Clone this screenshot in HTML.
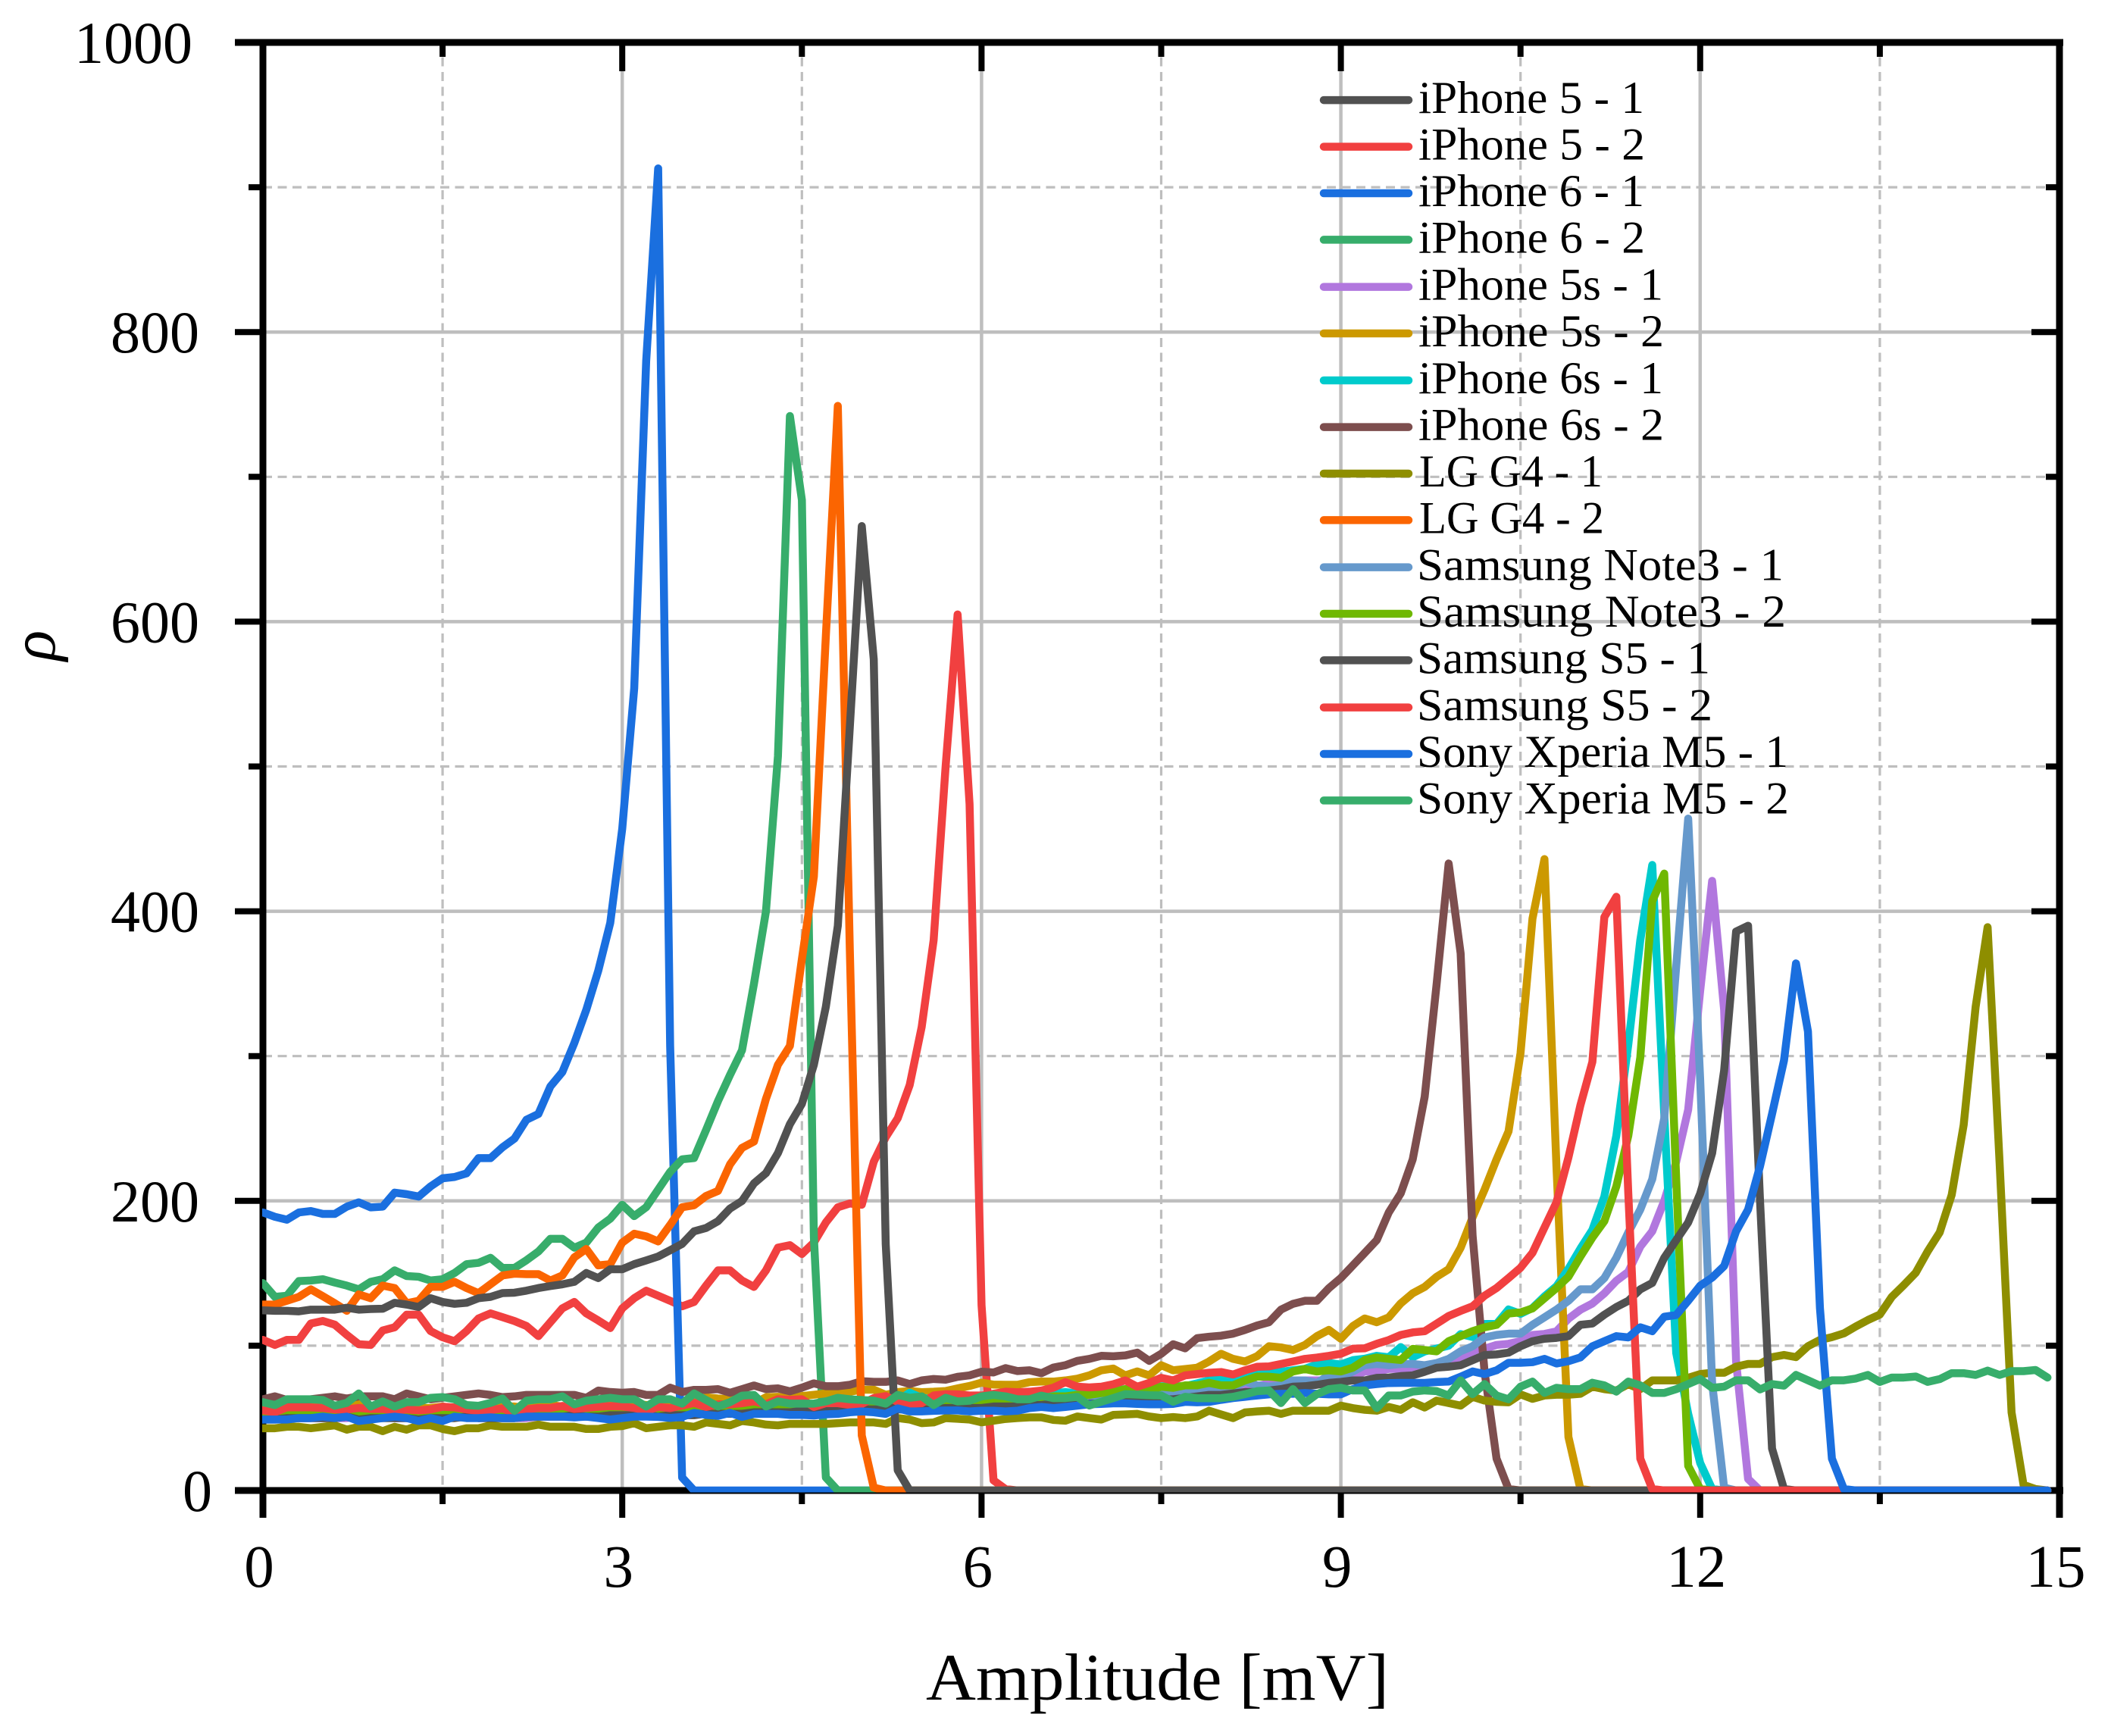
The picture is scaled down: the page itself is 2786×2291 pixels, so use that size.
<!DOCTYPE html>
<html lang="en">
<head>
<meta charset="utf-8">
<title>Amplitude distribution per device</title>
<style>
html,body{margin:0;padding:0;background:#fff;}
svg{display:block;font-family:"Liberation Serif","DejaVu Serif",serif;}
</style>
</head>
<body>
<svg id="chart" xmlns="http://www.w3.org/2000/svg" width="2786" height="2291" viewBox="0 0 2786 2291">
  <defs><clipPath id="plot-clip"><rect x="346" y="56" width="2373" height="1913.5"/></clipPath></defs>
  <rect x="0" y="0" width="2786" height="2291" fill="#ffffff"/>
  <g id="grid"></g>
  <g id="axes"></g>
  <g id="series" clip-path="url(#plot-clip)"></g>
  <text x="1222" y="2243" font-size="88" textLength="611" lengthAdjust="spacingAndGlyphs">Amplitude [mV]</text>
  <text transform="translate(72,852) rotate(-90)" font-size="84" font-style="italic" text-anchor="middle">ρ</text>
  <g font-size="60" fill="#000">
    <g><line x1="1747" x2="1859" y1="132.1" y2="132.1" stroke="#515151" stroke-width="10.5" stroke-linecap="round"/><text x="1872" y="149" textLength="298" lengthAdjust="spacingAndGlyphs">iPhone 5 - 1</text></g>
    <g><line x1="1747" x2="1859" y1="193.6" y2="193.6" stroke="#F14040" stroke-width="10.5" stroke-linecap="round"/><text x="1872" y="210.5" textLength="299" lengthAdjust="spacingAndGlyphs">iPhone 5 - 2</text></g>
    <g><line x1="1747" x2="1859" y1="255" y2="255" stroke="#1A6FDF" stroke-width="10.5" stroke-linecap="round"/><text x="1872" y="272" textLength="298" lengthAdjust="spacingAndGlyphs">iPhone 6 - 1</text></g>
    <g><line x1="1747" x2="1859" y1="316.4" y2="316.4" stroke="#37AD6B" stroke-width="10.5" stroke-linecap="round"/><text x="1872" y="333.5" textLength="299" lengthAdjust="spacingAndGlyphs">iPhone 6 - 2</text></g>
    <g><line x1="1747" x2="1859" y1="378.6" y2="378.6" stroke="#B177DE" stroke-width="10.5" stroke-linecap="round"/><text x="1872" y="395.5" textLength="323" lengthAdjust="spacingAndGlyphs">iPhone 5s - 1</text></g>
    <g><line x1="1747" x2="1859" y1="440" y2="440" stroke="#CC9900" stroke-width="10.5" stroke-linecap="round"/><text x="1872" y="457" textLength="324" lengthAdjust="spacingAndGlyphs">iPhone 5s - 2</text></g>
    <g><line x1="1747" x2="1859" y1="502" y2="502" stroke="#00CBCC" stroke-width="10.5" stroke-linecap="round"/><text x="1872" y="519" textLength="323" lengthAdjust="spacingAndGlyphs">iPhone 6s - 1</text></g>
    <g><line x1="1747" x2="1859" y1="563.6" y2="563.6" stroke="#7D4E4E" stroke-width="10.5" stroke-linecap="round"/><text x="1872" y="580.5" textLength="324" lengthAdjust="spacingAndGlyphs">iPhone 6s - 2</text></g>
    <g><line x1="1747" x2="1859" y1="625" y2="625" stroke="#8E8E00" stroke-width="10.5" stroke-linecap="round"/><text x="1873" y="642" textLength="242" lengthAdjust="spacingAndGlyphs">LG G4 - 1</text></g>
    <g><line x1="1747" x2="1859" y1="686.4" y2="686.4" stroke="#FB6501" stroke-width="10.5" stroke-linecap="round"/><text x="1873" y="703.5" textLength="244" lengthAdjust="spacingAndGlyphs">LG G4 - 2</text></g>
    <g><line x1="1747" x2="1859" y1="748.6" y2="748.6" stroke="#6699CC" stroke-width="10.5" stroke-linecap="round"/><text x="1870" y="765.5" textLength="484" lengthAdjust="spacingAndGlyphs">Samsung Note3 - 1</text></g>
    <g><line x1="1747" x2="1859" y1="810" y2="810" stroke="#6FB802" stroke-width="10.5" stroke-linecap="round"/><text x="1870" y="827" textLength="487" lengthAdjust="spacingAndGlyphs">Samsung Note3 - 2</text></g>
    <g><line x1="1747" x2="1859" y1="871.4" y2="871.4" stroke="#515151" stroke-width="10.5" stroke-linecap="round"/><text x="1870" y="888.5" textLength="387" lengthAdjust="spacingAndGlyphs">Samsung S5 - 1</text></g>
    <g><line x1="1747" x2="1859" y1="933.6" y2="933.6" stroke="#F14040" stroke-width="10.5" stroke-linecap="round"/><text x="1870" y="950.5" textLength="390" lengthAdjust="spacingAndGlyphs">Samsung S5 - 2</text></g>
    <g><line x1="1747" x2="1859" y1="995" y2="995" stroke="#1A6FDF" stroke-width="10.5" stroke-linecap="round"/><text x="1870" y="1012" textLength="490" lengthAdjust="spacingAndGlyphs">Sony Xperia M5 - 1</text></g>
    <g><line x1="1747" x2="1859" y1="1056.4" y2="1056.4" stroke="#37AD6B" stroke-width="10.5" stroke-linecap="round"/><text x="1870" y="1073.5" textLength="491" lengthAdjust="spacingAndGlyphs">Sony Xperia M5 - 2</text></g>
  </g>
</svg>
<script>
const xMajorTicks = [0, 3, 6, 9, 12, 15];
const xMinorTicks = [1.5, 4.5, 7.5, 10.5, 13.5];
const yMajorTicks = [0, 200, 400, 600, 800, 1000];
const yMinorTicks = [100, 300, 500, 700, 900];
const sampleStep = 0.1;
const lastAmplitude = 14.9;

/* rho values per 0.1 mV; once a trace reaches 0 it stays on 0 to the end of the sweep */
const iphone5_1 = [124.4,124.1,124.1,123.7,124.9,124.9,124.9,126.2,124.9,125.3,
125.5,129.6,128.4,126.7,132.8,130.2,128.9,129.6,132.8,133.7,
136.3,136.6,138,139.8,141.2,142.4,144.1,150.2,146.7,152.8,
152.8,156.3,158.9,161.6,165.9,170.3,179,181.3,186,194.7,
199.9,212.1,219.1,233,253,267,294,334,390,527,
666,574,170,14,0];
const iphone5_2 = [104,100.5,104,104,115.3,117.1,114.5,107.5,101,100.5,
110.5,112.7,121.4,121.4,110.1,105.8,103.1,110.1,118.8,122.3,
119.7,117,113.6,106.6,116.2,125.8,130.2,122.3,117.4,112.2,
125.8,132.8,138,134.5,131,127.2,130.2,141.5,152,152,
145,140.6,152,167.7,169.4,163.3,171.2,185.1,195.6,198.2,
197.3,227,244,257,280,320,380,500,605,474,
128,7,1,0];
const iphone6_1 = [192,189,187,192,193,191,191,196,199,195.5,
196,205.7,204.6,203,210,215.6,216.5,219,229.5,229.5,
237,243,256,260,279,289,309,332,359,392,
457,554,780,913,307,9,0];
const iphone6_2 = [143.2,133.7,134.5,144.6,145,145.9,143.6,141.5,138.9,144.1,
145.9,152,148.1,147.6,145,145.9,150.2,156.3,157.2,160.7,
153.7,153.7,159,165,173.8,173.8,167.7,171.2,181.6,187.7,
197.3,189.5,195.6,207.8,220,228.7,229.6,249,269,287,
304,350,400,507,742,684,175,9,0];
const iphone5s_1 = [49,50,50,50,50,50,50,50,51,50,
51,50,50,50,50,50,51,51,50,50,
50,50,50,51,51,51,51,51,51,52,
52,52,52,52,53,53,53,53,53,53,
53,54,54,54,55,56,56,56,56,56,
56,56,57,57,57,57,58,58,58,59,
59.5,59.5,60,60,60,60,60,60,60.5,60.5,
60.4,61,62,64,65,66.5,67,67,68,69,
70,71,72,72,74,75.2,76,76,76,76,
76,78.6,82.2,82,84,84,85,86,87,89.3,
91.9,94.4,97.9,100.5,101.3,103.1,107.4,108.1,109.9,118.6,
124.8,129.1,136.1,144.8,151,168.4,179,200,227,263,
345,421,332,89,8,0];
const iphone5s_2 = [57,58,58,59.5,59.5,59,58,58,62,58,
57,57,58,57,57,58,57,57,57,57,
58,58,57,58,59,58,58,58,59,59,
60,60,59,59,59.5,60,61,64.4,63.5,63,
62,60,64.4,64.7,63.5,65.2,66.1,67,67.9,68.2,
69.6,69.6,66,68,68.7,67.9,68.2,68.7,70.5,72.2,
74.5,73.1,73,73,74.8,75.2,75.2,76,77.2,79.5,
83,84.2,79.5,82.2,79.5,86.5,83,83.9,84.8,89.1,
94.4,90.9,89.1,92.7,99.6,98.8,97,100.5,106.6,110.9,
104.8,113.5,118.8,116.2,119.6,129.2,136.2,140.6,147.6,152.8,
167.6,188.6,207.8,228.7,248,302,395,436,224,37,
1,0];
const iphone6s_1 = [52,53,52,53,52,53,52,53,52,53,
53,53,52,53,54,53,54,53,53,53,
54,53,54,53,54,54,55,54,54,55,
55,54,55,54,55,55,56,55,55,56,
56,56,57,56,57,57,56,58,59,58,
59,59,60,62,67.5,64,63,63,64,64,
64,63,64,65,66,67,67,68,67,68,
69,69,70,70,72,72,72,72,74,76,
77,78,79,80,81,82,83,84,87,88,
87,90,91,93,92,99,92,96,98,100,
108,106,115,115,125,122,126,134,141,153,
167,180,203,245,308,380,432,260,95,53,
19,1,0];
const iphone6s_2 = [63,65,62.5,62.5,63,64,65,63.5,65,65,
65,63,67,65,63,64,65,66,67,66,
64.5,65,66,66,66,66,66,64,69,68,
67.5,68,66,66,71,68,69.5,69.5,70,67.5,
70,72.5,70,70.5,68.5,71,74,72,72,73,
75.5,75,75,76,73.5,76,77,76.5,78.5,79.5,
82,81.5,84.5,82.5,83,81,84.9,86.5,89.5,90.9,
93,92.7,93.3,95.2,89.5,94.4,101,98.2,105.2,106.2,
106.9,108.3,110.9,113.9,116.2,124.9,128.9,131,131,139.7,
146.7,155.4,164.1,172.9,192,205.2,228.7,272,350,433,
371,176,82,22,1,0];
const lgG4_1 = [43,43,44,44,43,44,45,42,44,44,
41,44,42,45,45,42.5,41,43,43,45,
44,44,44,45.5,44,44,44,42.5,42.5,44,
44.5,46.5,43,44,45,45,44,47,46,45,
48,47,45.5,45,46,46,46,46,46.5,47,
47,47,46,50,49,46.5,47,50,49.5,49,
47.1,48.2,49.4,50,50.5,50.5,48.7,48.2,51.1,50,
49,52.2,52.5,52.9,51.1,50,50.7,50,51.1,55.1,
52.5,50,53.9,54.6,55.1,52.9,55.1,55.1,55.1,55.1,
58.6,56.9,55.7,55.1,57.7,55.7,60.9,57.3,62.1,60.4,
58.6,64.7,62.1,61.2,60.9,66.4,63.3,65.6,66.1,66.1,
66.8,71.7,70,69,73.4,70,76,76,76,77.8,
80.4,81.3,81.3,85.5,87.4,87.4,92.1,93.6,92.1,99.6,
104,105.9,108.5,113.3,117.7,121.5,133.7,141.8,150.4,165.2,
178.2,204.1,252.4,334,389,226.4,53.9,3.9,1,0];
const lgG4_2 = [128.4,128.4,131,133.7,138.9,134.2,129.3,124.1,135.4,132.8,
141.5,139.8,129.3,131,140.6,140.6,144.1,139.8,136.3,142.4,
148.5,149.7,149.4,149.4,145,148.5,161,166.8,155.5,156.3,
171.2,177.3,175.5,172,183.4,195.6,197,203.4,206.9,225.2,
236.6,241,270.5,294,307,367,424,590,749,374,
38,2,0];
const note3_1 = [50,52,51,51,51,51.5,52,51,52,51,
52,51,51,51,51,50,52,53.5,52,51,
51,51,51,52,52,52,52,52,51,52,
54,55,54,53,53,53,54,54,54,54,
54,55,55,55,55,55,55,56,56,57,
57,57,58,58,57,58,58,59,59,59,
60,60,61,61,62,62,63,63,64,64,
65,65,66,66,66,67,67,68,68,69,
70,71,75.2,72.6,71.7,72.6,76,76,74.3,79.5,
78.6,82.2,86.5,87.4,86.5,87.4,87.4,86.5,88,90.9,
96.1,99.6,105.7,107.4,108.3,108.3,114.4,119.6,124.9,131,
138.9,138.9,146.7,160.7,178.2,194,215,257,362,464,
284,74,2,0];
const note3_2 = [53,54,53,53,53,54,53,54,52,53,
54,53,52,52,53,52,54,55,54,53,
54,53,53,54,54,55,55,54,54,55,
55,56,55,55,55,56,56,57,57,56,
57,58,56,57,57,57,58,58,59,58,
59,59,58,58,59,59,60,60,61,62,
62,62,62,63,64,64,65,65,66,66,
67.3,68,70,68.6,69,71.7,70.9,72.6,72.6,74.3,
72.6,72.6,76,78.6,78.6,77.8,82.2,83.9,82.2,83,
82.2,84.8,90.1,91.8,90.9,90.1,97.8,97,96.1,103.1,
106.6,110,112.7,114.4,122.2,123,125.7,132.7,139.8,147.6,
161.5,174.6,186,210,245,299,407,426,215,17,
1,0];
const s5_1 = [49,49,50,50,50,50,50,51,49,50,
50,50,50,49,50,50,50,51,50,50,
50,50,51,51,51,51,52,51,51,52,
52,52,52,51,52,52,52,53,53,53,
53,54,54,54,54,55,54,55,55,56,
56,56,56,56,56,56,56,57,57,57,
57,58,58,58,59,59,60,60,60,60,
60,61,62,62,63,63,63,64,65,66,
66,67,68,68,69,70,71.7,72,73,74.3,
75,76,76,77.8,78,79,79.5,82,84.8,85.5,
86.5,90,93.5,94,95.2,99.6,103.1,104.8,105.4,106.6,
114.4,115.3,121.4,126.7,131,138.9,143.3,160.7,172.9,185.1,
205,233,290,386,390,200,29,1,0];
const s5_2 = [55.3,54,57.4,57.4,57.4,57,56,56,57,56.3,
56.3,55.3,56,55.3,56,57.8,57.4,56,55,55.6,
56.7,53.4,56,57,57,58.4,56.3,57,57.8,58.3,
58,57,55,57.7,56.9,58.6,60.5,57.7,59.5,59.5,
60.3,61.6,59.5,63,62.6,63,57.7,60.3,60.3,59.1,
59.8,63.8,65.2,61.2,59.8,60.3,65.6,66.5,66.4,65.6,
65.6,66.8,68.2,67.8,68.2,69,71,74.8,71.7,71.2,
71.7,73.4,76,71.7,74.3,77.8,76,79.5,80.4,81.3,
81.8,80.1,83,85.4,85.7,87.4,89.1,90.9,91.8,93,
94.4,97.9,98.2,101.3,103.9,107.4,109.2,110,115.2,120.5,
124,127.2,134.5,139.8,146.7,153.8,164.1,181.6,199,230,
266,296,396,410,205,22,1,0];
const m5_1 = [49,49,49,50,50,51,50,51,48,49,
50,51,50,48,50,48,51,50,50,50.5,
50,50,51,51,51,51,50.5,51,50,49,
50,51,51,50.8,50.1,50.8,53.6,52.2,51.5,53.6,
50.8,52.9,52.9,52.9,52.2,52.2,51.8,52.6,52.9,54,
54.6,54,52.9,56.7,54.6,54.6,55,55.3,55.3,54.6,
55.1,55.1,54.6,55.1,56.9,57.7,56.9,57.7,58.6,59.5,
59.8,60.2,60.2,59.8,59.5,59.5,59.8,61.2,60.9,61.2,
62.6,63.8,64.7,65.6,66.4,66.8,66.8,67.3,66.8,66.4,
66.4,70,72.6,73.5,74.2,74.3,74.3,74.3,74.9,75.2,
78.6,82.2,80.4,83,88.2,88.2,88.6,90.9,87.7,89.3,
91.9,99.6,103.1,106.6,105.7,112.7,110,120,121.2,131,
141.4,147,155,179,194,224,260,297,364,317,
126,22,1,0];
const m5_2 = [61,59,63,63,63,62.5,58.5,60.5,67,58,
61.5,58,61,61,64,64.5,63,59,58.5,60.5,
63.5,55,62,63,63,65,59.5,62,63,64,
63,63,58,63,63,60,67,62.5,58,61,
65.5,66,58,61.5,60,60,60,61.5,64,63,
62.5,62,60,66,64,65,59,64,61.5,62,
65,66,65,63,63,65.5,63.8,63.8,64.7,58.7,
61.3,63.8,66.5,66.2,65.8,65.6,61.3,64.7,63.8,63.7,
63.8,64.7,66.5,68.6,69.1,60.4,70,60.4,66.5,70,
70.9,69.1,69.1,56.9,65.6,65.6,68.3,69.1,68.6,65.6,
76.1,66.5,73.5,65.6,63,71.7,75.2,67.4,70.9,70,
70,74.4,72.6,68.3,75.2,72.6,67.4,67.4,70,73.5,
77,70.9,71.7,76.1,76.1,69.8,73.5,72.4,79.8,76.1,
72.4,76.1,76.1,77.3,79.8,75,78,78,78.7,75,
76.9,81,81,79.8,82.8,79.8,82.4,82.4,83.2,78];

const seriesList = [
  {name:'iphone-5-2', color:'#F14040', values:iphone5_2},
  {name:'iphone-6-1', color:'#1A6FDF', values:iphone6_1},
  {name:'iphone-6-2', color:'#37AD6B', values:iphone6_2},
  {name:'iphone-5s-1', color:'#B177DE', values:iphone5s_1},
  {name:'iphone-5s-2', color:'#CC9900', values:iphone5s_2},
  {name:'iphone-6s-1', color:'#00CBCC', values:iphone6s_1},
  {name:'iphone-6s-2', color:'#7D4E4E', values:iphone6s_2},
  {name:'lg-g4-1', color:'#8E8E00', values:lgG4_1},
  {name:'lg-g4-2', color:'#FB6501', values:lgG4_2},
  {name:'samsung-note3-1', color:'#6699CC', values:note3_1},
  {name:'samsung-note3-2', color:'#6FB802', values:note3_2},
  {name:'iphone-5-1', color:'#515151', values:iphone5_1},
  {name:'samsung-s5-1', color:'#515151', values:s5_1},
  {name:'samsung-s5-2', color:'#F14040', values:s5_2},
  {name:'sony-xperia-m5-1', color:'#1A6FDF', values:m5_1},
  {name:'sony-xperia-m5-2', color:'#37AD6B', values:m5_2}
];

const NS = 'http://www.w3.org/2000/svg';
const xPos = function (v) { return 347 + v * (2718 - 347) / 15; };
const yPos = function (v) { return 1967 - v * (1967 - 56) / 1000; };
const gridGroup = document.getElementById('grid');
const axesGroup = document.getElementById('axes');
const seriesGroup = document.getElementById('series');

function makeLine(parent, x1, y1, x2, y2, stroke, width, dash) {
  const el = document.createElementNS(NS, 'line');
  el.setAttribute('x1', x1);
  el.setAttribute('y1', y1);
  el.setAttribute('x2', x2);
  el.setAttribute('y2', y2);
  el.setAttribute('stroke', stroke);
  el.setAttribute('stroke-width', width);
  if (dash) el.setAttribute('stroke-dasharray', dash);
  parent.appendChild(el);
  return el;
}

/* gridlines */
xMajorTicks.slice(1, -1).forEach(function (v) {
  const el = makeLine(gridGroup, xPos(v), 56, xPos(v), 1967, '#BEBEBE', 4.5);
  
  
});
yMajorTicks.slice(1, -1).forEach(function (v) {
  const el = makeLine(gridGroup, 347, yPos(v), 2718, yPos(v), '#BEBEBE', 4.5);
  
  
});
xMinorTicks.forEach(function (v) {
  const el = makeLine(gridGroup, xPos(v), 56, xPos(v), 1967, '#BEBEBE', 3.2, '12 7.5');
  
  
});
yMinorTicks.forEach(function (v) {
  const el = makeLine(gridGroup, 347, yPos(v), 2718, yPos(v), '#BEBEBE', 3.2, '12 7.5');
  
  
});

/* spines */
const spineTop = makeLine(axesGroup, 310, 56, 2723, 56, '#000', 9);


const spineBottom = makeLine(axesGroup, 310, 1967, 2723, 1967, '#000', 9);


const spineLeft = makeLine(axesGroup, 347, 52, 347, 2003, '#000', 9);


const spineRight = makeLine(axesGroup, 2718, 52, 2718, 2003, '#000', 9);



/* ticks */
xMajorTicks.slice(1, -1).forEach(function (v) {
  const top = makeLine(axesGroup, xPos(v), 56, xPos(v), 94, '#000', 8);
  
  
  const bottom = makeLine(axesGroup, xPos(v), 1967, xPos(v), 2003, '#000', 8);
  
  
});
xMinorTicks.forEach(function (v) {
  const top = makeLine(axesGroup, xPos(v), 56, xPos(v), 75, '#000', 8);
  
  
  const bottom = makeLine(axesGroup, xPos(v), 1967, xPos(v), 1985, '#000', 8);
  
  
});
yMajorTicks.slice(1, -1).forEach(function (v) {
  const left = makeLine(axesGroup, 310, yPos(v), 347, yPos(v), '#000', 8);
  
  
  const right = makeLine(axesGroup, 2681, yPos(v), 2718, yPos(v), '#000', 8);
  
  
});
yMinorTicks.forEach(function (v) {
  const left = makeLine(axesGroup, 328, yPos(v), 347, yPos(v), '#000', 8);
  
  
  const right = makeLine(axesGroup, 2700, yPos(v), 2718, yPos(v), '#000', 8);
  
  
});

/* tick labels */
xMajorTicks.forEach(function (v) {
  const el = document.createElementNS(NS, 'text');
  
  
  el.setAttribute('x', xPos(v) - 5);
  el.setAttribute('y', 2094);
  el.setAttribute('font-size', 79);
  el.setAttribute('text-anchor', 'middle');
  el.textContent = String(v);
  axesGroup.appendChild(el);
});
yMajorTicks.forEach(function (v) {
  const label = String(v);
  const rightEdge = label.length === 1 ? 280 : (label.length === 3 ? 263 : 254);
  const el = document.createElementNS(NS, 'text');
  
  
  el.setAttribute('x', rightEdge);
  el.setAttribute('y', yPos(v) + 27);
  el.setAttribute('font-size', 78);
  el.setAttribute('text-anchor', 'end');
  el.textContent = label;
  axesGroup.appendChild(el);
});

/* series */
seriesList.forEach(function (s) {
  const pts = s.values.map(function (v, i) {
    return xPos(i * sampleStep).toFixed(2) + ',' + yPos(v).toFixed(2);
  });
  if (s.values.length * sampleStep < lastAmplitude) {
    pts.push(xPos(lastAmplitude).toFixed(2) + ',' + yPos(0).toFixed(2));
  }
  const el = document.createElementNS(NS, 'polyline');
  
  
  el.setAttribute('points', pts.join(' '));
  el.setAttribute('fill', 'none');
  el.setAttribute('stroke', s.color);
  el.setAttribute('stroke-width', 10.5);
  el.setAttribute('stroke-linejoin', 'round');
  el.setAttribute('stroke-linecap', 'round');
  seriesGroup.appendChild(el);
});
</script>
</body>
</html>
